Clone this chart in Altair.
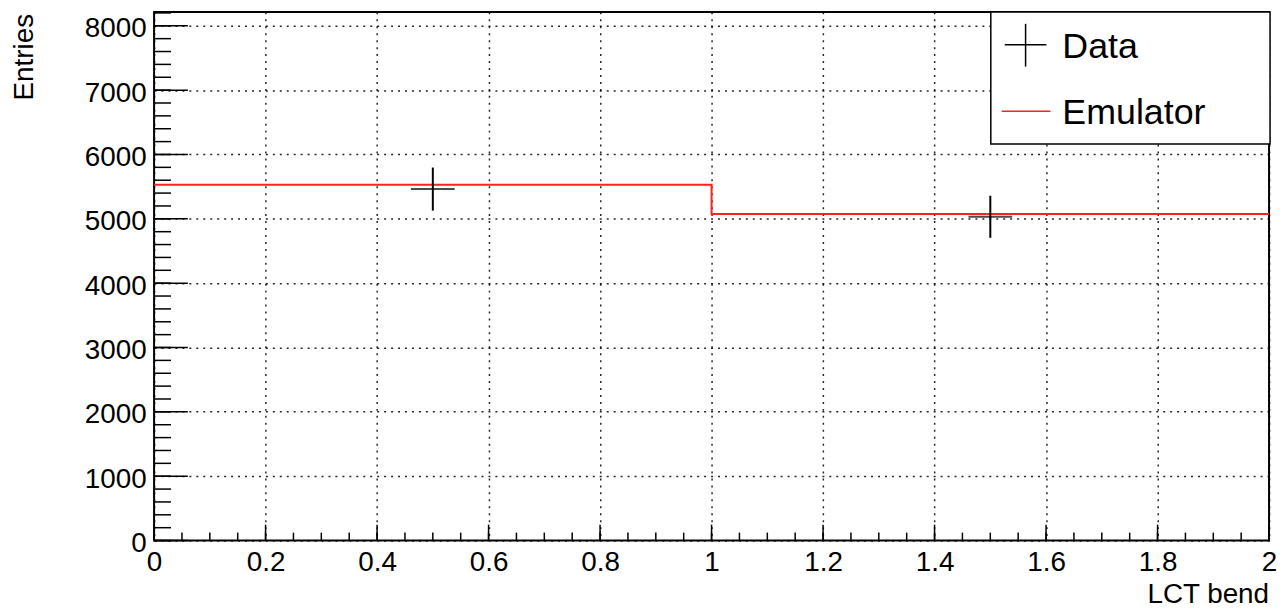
import altair as alt
import pandas as pd
import numpy as np

# ---- data ----
bin_edges = [0.0, 1.0, 2.0]
emulator_counts = [5529, 5076]
data_centers = [0.5, 1.5]
data_counts = [5462, 5032]
data_errors = [335, 327]

x_major = [0.0, 0.2, 0.4, 0.6, 0.8, 1.0, 1.2, 1.4, 1.6, 1.8, 2.0]
y_major = [0, 1000, 2000, 3000, 4000, 5000, 6000, 7000, 8000]
x_minor = [round(v, 2) for v in np.arange(0, 2.0001, 0.05)]
y_minor = [int(v) for v in np.arange(0, 8201, 200)]

legend_labels = ["Data", "Emulator"]
x_title = "LCT bend"
y_title = "Entries"

# ---- layout ----
W, H = 1122, 532
YMAX = 8216
FONT = "Liberation Sans"

xs = alt.Scale(domain=[0, 2], nice=False, zero=False)
ys = alt.Scale(domain=[0, YMAX], nice=False, zero=True)

X_AX = alt.Axis(values=x_major, grid=True, gridDash=[2, 5], gridColor="black",
                gridWidth=1.5, gridOpacity=0.85, ticks=False, domain=False,
                labelFont=FONT, labelFontSize=28, labelColor="black",
                labelPadding=8, labelFlush=False, labelOverlap=False,
                format="~g", title=None)
Y_AX = alt.Axis(values=y_major, grid=True, gridDash=[2, 5], gridColor="black",
                gridWidth=1.5, gridOpacity=0.85, ticks=False, domain=False,
                labelFont=FONT, labelFontSize=28, labelColor="black",
                labelPadding=8, labelFlush=False, labelOverlap=False,
                labelOffset=3, format="d", title=None)

# emulator histogram (step line)
emu_df = pd.DataFrame({"x": bin_edges, "y": emulator_counts + [emulator_counts[-1]]})
emu = alt.Chart(emu_df).mark_line(interpolate="step-after", color="#ff2020", strokeWidth=2).encode(
    x=alt.X("x:Q", scale=xs, axis=X_AX),
    y=alt.Y("y:Q", scale=ys, axis=Y_AX),
)

# data points with errors
dat_df = pd.DataFrame({
    "x": data_centers,
    "y": data_counts,
    "lo": [c - e for c, e in zip(data_counts, data_errors)],
    "hi": [c + e for c, e in zip(data_counts, data_errors)],
})
err = alt.Chart(dat_df).mark_rule(color="black", strokeWidth=2).encode(
    x=alt.X("x:Q", scale=xs, axis=X_AX),
    y=alt.Y("lo:Q", scale=ys, axis=Y_AX),
    y2="hi:Q",
)
mk = alt.Chart(dat_df).mark_tick(orient="horizontal", size=44, thickness=2, color="black").encode(
    x=alt.X("x:Q", scale=xs, axis=X_AX),
    y=alt.Y("y:Q", scale=ys, axis=Y_AX),
)

# ticks
def xticks(vals, length):
    return alt.Chart(pd.DataFrame({"x": vals})).mark_rule(color="black", strokeWidth=1.5).encode(
        x=alt.X("x:Q", scale=xs, axis=X_AX),
        y=alt.value(H), y2=alt.value(H - length),
    )

def yticks(vals, length):
    return alt.Chart(pd.DataFrame({"y": vals})).mark_rule(color="black", strokeWidth=1.5).encode(
        y=alt.Y("y:Q", scale=ys, axis=Y_AX),
        x=alt.value(0), x2=alt.value(length),
    )

one = pd.DataFrame({"a": [0]})

# legend
leg_box = alt.Chart(one).mark_rect(fill="white", stroke="black", strokeWidth=1.5).encode(
    x=alt.value(842), x2=alt.value(1123), y=alt.value(0), y2=alt.value(133))
leg_h = alt.Chart(one).mark_rule(color="black", strokeWidth=1.5).encode(
    x=alt.value(856), x2=alt.value(898), y=alt.value(33))
leg_v = alt.Chart(one).mark_rule(color="black", strokeWidth=1.5).encode(
    x=alt.value(877), y=alt.value(12), y2=alt.value(55))
leg_r = alt.Chart(one).mark_rule(color="#ff2020", strokeWidth=1.5).encode(
    x=alt.value(853), x2=alt.value(902), y=alt.value(100))
leg_t1 = alt.Chart(pd.DataFrame({"label": [legend_labels[0]]})).mark_text(
    align="left", baseline="middle", font=FONT, fontSize=36, color="black").encode(
    text="label:N", x=alt.value(914), y=alt.value(35))
leg_t2 = alt.Chart(pd.DataFrame({"label": [legend_labels[1]]})).mark_text(
    align="left", baseline="middle", font=FONT, fontSize=36, color="black").encode(
    text="label:N", x=alt.value(914), y=alt.value(102))

# axis titles
xt = alt.Chart(pd.DataFrame({"t": [x_title]})).mark_text(
    align="right", baseline="alphabetic", font=FONT, fontSize=28, color="black").encode(
    text="t:N", x=alt.value(W), y=alt.value(H + 63))
yt = alt.Chart(pd.DataFrame({"t": [y_title]})).mark_text(
    align="right", baseline="alphabetic", angle=270, font=FONT, fontSize=28, color="black").encode(
    text="t:N", x=alt.value(-122), y=alt.value(2))

chart = alt.layer(
    emu, err, mk,
    xticks(x_minor, 8), xticks(x_major, 16),
    yticks(y_minor, 17), yticks(y_major, 34),
    leg_box, leg_h, leg_v, leg_r, leg_t1, leg_t2,
    xt, yt,
).properties(
    width=W, height=H,
    autosize=alt.AutoSizeParams(type="none"),
    padding={"left": 147, "top": 2, "right": 8, "bottom": 72},
    background="white",
).configure_view(stroke="black", strokeWidth=2)

chart.save("out.html", embed_options={"renderer": "svg", "actions": False})
